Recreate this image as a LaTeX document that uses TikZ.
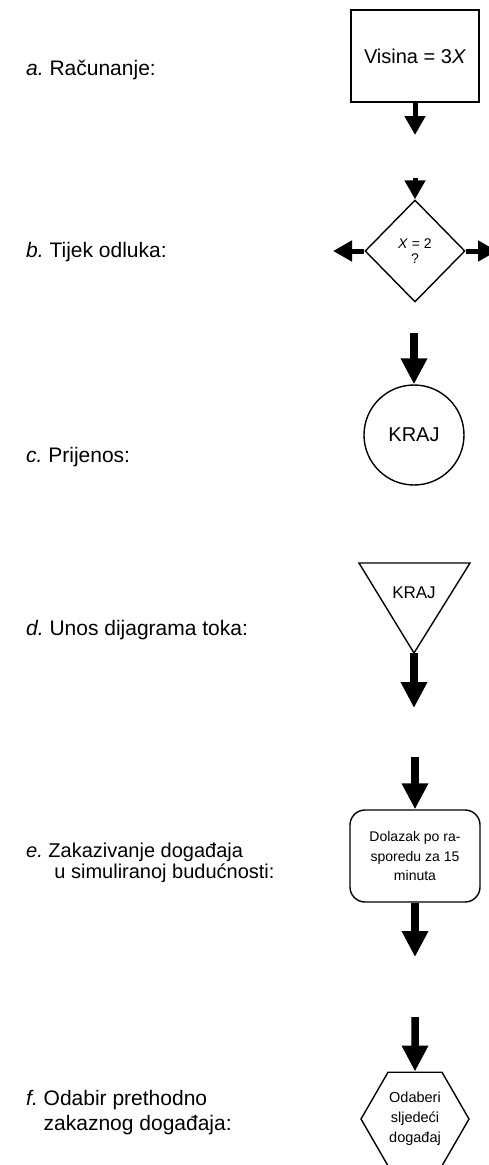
\documentclass[tikz,border=0pt]{standalone}
\usepackage{fontspec}
\setmainfont{Liberation Sans}
\usetikzlibrary{arrows.meta,shapes.geometric,positioning}
\frenchspacing
\tikzset{
  flow/.style={line width=7.5pt,-{Triangle[length=26pt,width=25pt]}},
  smallflow/.style={line width=5pt,-{Triangle[length=19pt,width=20pt]}},
  lbl/.style={anchor=west,inner sep=0pt,align=left,font=\fontsize{21}{25}\selectfont},
  outline/.style={draw,line width=1.4pt,inner sep=0pt,align=center},
}
\begin{document}
\begin{tikzpicture}[x=1pt,y=-1pt]
  \useasboundingbox (0,0) rectangle (489,1165);
  \def\X{415}
  % a
  \node[lbl] (alab) at (26,70) {\textit{a.} Računanje:};
  \node[outline,minimum width=128pt,minimum height=92pt,font=\fontsize{20}{24}\selectfont] (calc) at (\X,56) {Visina = 3\textit{X}};
  \coordinate (calcout) at (\X,135);
  \draw[smallflow] (calc.south) -- (calcout);
  % b
  \node[lbl] (blab) at (26,252) {\textit{b.} Tijek odluka:};
  \node[outline,diamond,minimum width=100pt,minimum height=102pt,font=\fontsize{14}{15}\selectfont] (dec) at (\X,251) {\textit{X} = 2\\?};
  \coordinate (decin) at (\X,178);
  \coordinate (decleft) at (333,251);
  \coordinate (decright) at (497,251);
  \draw[smallflow] (decin) -- (dec.north);
  \draw[smallflow] (dec.west) -- (decleft);
  \draw[smallflow] (dec.east) -- (decright);
  % c
  \node[lbl] (clab) at (26,457) {\textit{c.} Prijenos:};
  \node[outline,circle,minimum size=100pt,font=\fontsize{20}{24}\selectfont] (kraj) at (414,435) {KRAJ};
  \coordinate (krajin) at (414,333);
  \draw[flow,line width=8.5pt] (krajin) -- (kraj.north);
  % d
  \node[lbl] (dlab) at (26,630) {\textit{d.} Unos dijagrama toka:};
  \coordinate (entA) at (359,563);
  \coordinate (entB) at (470,563);
  \coordinate (entC) at (414,653);
  \draw[line width=1.4pt,line join=miter] (entA) -- (entB) -- (entC) -- cycle;
  \node[font=\fontsize{17}{20}\selectfont] (entry) at (414,593) {KRAJ};
  \coordinate (entout) at (414,708);
  \draw[flow] (entC) -- (entout);
  % e
  \node[lbl,font=\fontsize{20}{21}\selectfont] (elab) at (26,863) {\textit{e.} Zakazivanje događaja\\\phantom{\textit{e.} }\hspace{6pt}u simuliranoj budućnosti:};
  \node[outline,rounded corners=15pt,minimum width=130pt,minimum height=92pt,font=\fontsize{14}{19.5}\selectfont] (sched) at (\X,856) {Dolazak po ra-\\sporedu za 15\\minuta};
  \coordinate (schedin) at (\X,757);
  \coordinate (schedout) at (\X,957);
  \draw[flow] (schedin) -- (sched.north);
  \draw[flow] (sched.south) -- (schedout);
  % f
  \node[lbl,font=\fontsize{21}{25}\selectfont] (flab) at (26,1113) {\textit{f.} Odabir prethodno\\\phantom{\textit{f.} }zakaznog događaja:};
  \node[outline,regular polygon,regular polygon sides=6,minimum size=108pt,font=\fontsize{14.5}{20}\selectfont] (pick) at (\X,1119) {Odaberi\\sljedeći\\događaj};
  \coordinate (pickin) at (\X,1017);
  \draw[flow] (pickin) -- (pick.north);
\end{tikzpicture}
\end{document}
